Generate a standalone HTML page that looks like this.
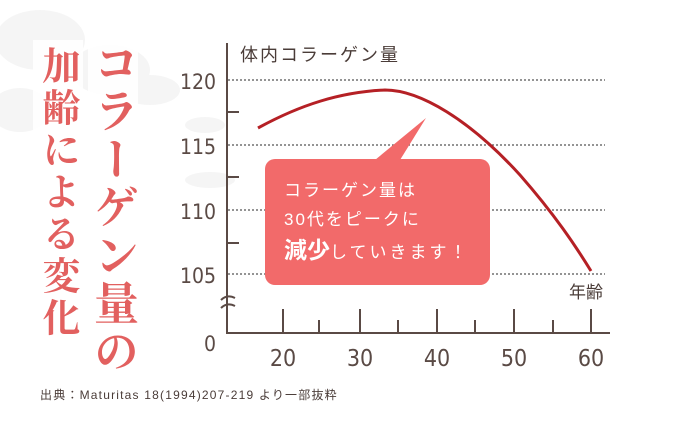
<!DOCTYPE html>
<html><head><meta charset="utf-8"><style>
body{margin:0;width:680px;height:421px;background:#fff;overflow:hidden;position:relative;font-family:"Liberation Sans","Noto Sans CJK JP",sans-serif;}
.v{position:absolute;writing-mode:vertical-rl;font-family:"Liberation Serif","Noto Serif CJK JP","Noto Serif CJK SC",serif;color:#e2605f;font-weight:700;line-height:1;}
</style></head><body>
<svg width="680" height="421" style="position:absolute;left:0;top:0">
<g fill="#f1f1f1" opacity="0.7">
<ellipse cx="40" cy="40" rx="45" ry="30"/><ellipse cx="110" cy="70" rx="40" ry="25"/><ellipse cx="20" cy="110" rx="30" ry="22"/>
<ellipse cx="150" cy="90" rx="30" ry="15"/><ellipse cx="205" cy="125" rx="20" ry="8"/><ellipse cx="210" cy="180" rx="25" ry="8"/>
</g>
<rect x="88" y="35" width="50" height="345" fill="#fff" opacity="0.9"/>
<rect x="33" y="40" width="50" height="310" fill="#fff" opacity="0.9"/>
<g stroke="#555" stroke-width="1.2" stroke-dasharray="2,2">
<line x1="228" y1="80" x2="605" y2="80"/><line x1="228" y1="145" x2="605" y2="145"/><line x1="228" y1="210" x2="605" y2="210"/><line x1="228" y1="274" x2="605" y2="274"/>
</g>
<g stroke="#5a4a45" stroke-width="2" fill="none">
<polyline points="227,43 227,333 610,333"/>
<line x1="227" y1="112" x2="239" y2="112"/><line x1="227" y1="177" x2="239" y2="177"/><line x1="227" y1="243" x2="239" y2="243"/>
<line x1="283" y1="309" x2="283" y2="333"/><line x1="360" y1="309" x2="360" y2="333"/><line x1="437" y1="309" x2="437" y2="333"/><line x1="514" y1="309" x2="514" y2="333"/><line x1="591" y1="309" x2="591" y2="333"/>
<line x1="319" y1="320" x2="319" y2="333"/><line x1="398" y1="320" x2="398" y2="333"/><line x1="475" y1="320" x2="475" y2="333"/><line x1="553" y1="320" x2="553" y2="333"/>
<path d="M221,300 q6,-6 14,-2 M221,308 q6,-6 14,-2"/>
</g>
<path d="M258,128 C300,105 340,92 385,90 C420,90 470,120 520,175 C555,215 575,245 591,271" stroke="#b52025" stroke-width="3" fill="none"/>
<path d="M375,160 L426,118 L400,160 Z" fill="#f26a6a"/>
<rect x="265" y="159" width="225" height="126" rx="10" fill="#f26a6a"/>
<g font-family="Liberation Sans,Noto Sans CJK JP,sans-serif" fill="#4a3c38">
<text x="240" y="61" font-size="18" letter-spacing="2">体内コラーゲン量</text>
<text x="569" y="298" font-size="17">年齢</text>
<g font-size="21" text-anchor="end" font-family="DejaVu Sans Condensed,Liberation Sans Narrow,sans-serif" fill="#5a4a45">
<text x="216" y="89">120</text><text x="216" y="154">115</text><text x="216" y="219">110</text><text x="216" y="283">105</text><text x="216" y="351">0</text>
</g>
<g font-size="23" text-anchor="middle" font-family="DejaVu Sans Condensed,sans-serif" fill="#5a4a45">
<text x="283" y="366">20</text><text x="360" y="366">30</text><text x="437" y="366">40</text><text x="514" y="366">50</text><text x="591" y="366">60</text>
</g>
<text x="40" y="399" font-size="12" letter-spacing="1.2">出典：Maturitas 18(1994)207-219 より一部抜粋</text>
</g>
<g fill="#fff" font-family="Liberation Sans,Noto Sans CJK JP,sans-serif">
<text x="284" y="196" font-size="17" letter-spacing="2">コラーゲン量は</text>
<text x="284" y="225" font-size="17" letter-spacing="2">30代をピークに</text>
<text x="284" y="258"><tspan font-size="23" font-weight="700">減少</tspan><tspan font-size="17" letter-spacing="3">していきます！</tspan></text>
</g>
</svg>
<div class="v" style="left:89px;top:40px;font-size:45px;letter-spacing:3px;">コラーゲン量の</div>
<div class="v" style="left:38px;top:46px;font-size:38px;letter-spacing:4px;">加齢による変化</div>
</body></html>
